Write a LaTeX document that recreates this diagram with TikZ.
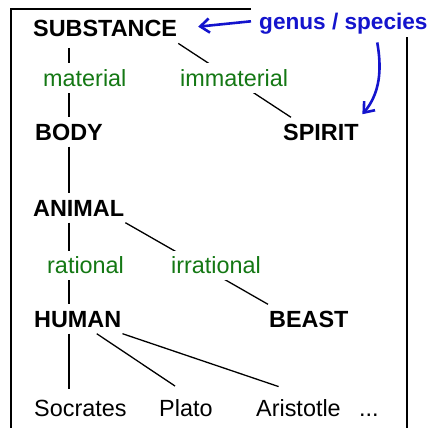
\documentclass[tikz,border=0pt]{standalone}
\usepackage{fontspec}
\setmainfont{Liberation Sans}
\usetikzlibrary{arrows.meta,backgrounds}
\definecolor{diffgreen}{RGB}{20,120,20}
\definecolor{noteblue}{RGB}{20,20,205}

\begin{document}
\begin{tikzpicture}[
  x=1pt, y=-1pt,
  every node/.style={font=\fontsize{23.4}{28}\selectfont, anchor=base west, text height=16pt, text depth=0pt, inner xsep=1pt, inner ysep=6.5pt},
  kind/.style={font=\fontsize{23.4}{28}\selectfont\bfseries},
  diff/.style={text=diffgreen, fill=white},
  note/.style={font=\fontsize{22.6}{27}\selectfont\bfseries, text=noteblue, fill=white, inner sep=8pt},
  link/.style={line width=1.3pt},
  pointer/.style={-{Straight Barb[length=3.2mm,width=5mm]}, line width=2.6pt, noteblue},
]
\useasboundingbox (0,0) rectangle (431,428);

% === FRAME ===
\draw[line width=1.3pt] (11,428) -- (11,9) -- (407,9) -- (407,428);

% === TREE ===
\node[kind] (subst) at (32,36.7) {SUBSTANCE};
\node[note] (gs) at (251,29.3) {genus / species};
\node[diff] (mat) at (42,86) {material};
\node[diff] (immat) at (179,86) {immaterial};
\node[kind] (body) at (34,140) {BODY};
\node[kind] (spirit) at (282,140) {SPIRIT};
\node[kind] (anim) at (32,216) {ANIMAL};
\node[diff] (rat) at (46,273) {rational};
\node[diff] (irrat) at (170,273) {irrational};
\node[kind] (human) at (33,327) {HUMAN};
\node[kind] (beast) at (268,327) {BEAST};
\node (socr) at (33,416) {Socrates};
\node (plato) at (158,416) {Plato};
\node (arist) at (255,416) {Aristotle};
\node (dots) at (358,416) {...};

\begin{scope}[on background layer]
\draw[link, shorten <=4.5pt] (subst.south -| body) -- (body);
\draw[link] (subst.south east) -- ([xshift=9pt]spirit.north west);
\draw[link] (body) -- (anim.north -| body);
\draw[link] (anim.south -| body) -- (human.north -| body);
\draw[link] (anim.south east) -- (beast.north west);
\draw[link, shorten >=4pt] (human.south -| body) -- (socr.north -| body);
\draw[link, shorten >=13pt] ([xshift=19pt]human.south) -- (plato.north);
\draw[link, shorten >=21pt] (human.south east) -- (arist.north);
\end{scope}

% === POINTERS ===
\draw[pointer, shorten >=20pt] (gs.west) -- (subst.east);
\draw[pointer, shorten <=5pt, shorten >=4pt] ([xshift=33pt]gs.south) to[out=-80, in=50] (spirit.north east);
\end{tikzpicture}
\end{document}
